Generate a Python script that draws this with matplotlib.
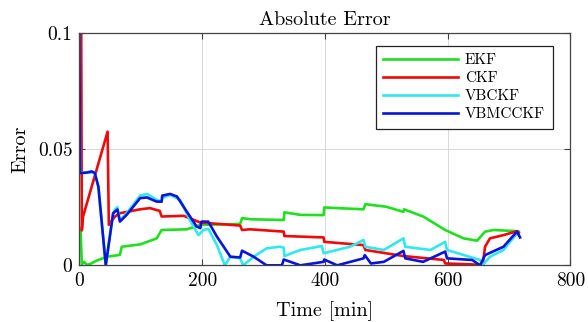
import matplotlib
matplotlib.use("Agg")
import matplotlib.pyplot as plt

plt.rcParams['font.family'] = ['cmr10', 'DejaVu Serif']
plt.rcParams['axes.unicode_minus'] = False
plt.rcParams['mathtext.fontset'] = 'cm'

title = "Absolute Error"
xlabel = "Time [min]"
ylabel = "Error"
labels = ["EKF", "CKF", "VBCKF", "VBMCCKF"]
colors = ["#1ee01e", "#ee0a0a", "#30e8ee", "#0a14d8"]

ekf_x = [0, 2, 4, 8, 12, 17, 28, 45, 66, 69, 99, 126, 134, 175, 197, 262, 265, 280, 333, 334, 360, 398, 399, 430, 463, 466, 500, 528, 529, 561, 596, 626, 648, 661, 675, 690, 713, 716]
ekf_y = [0.015, 0.015, 0.0005, 0.0015, 0.0002, 0.0005, 0.002, 0.0037, 0.0045, 0.008, 0.009, 0.0116, 0.0152, 0.0155, 0.0174, 0.0178, 0.0203, 0.0198, 0.0195, 0.0228, 0.0217, 0.0216, 0.0249, 0.0245, 0.0241, 0.0263, 0.0252, 0.0230, 0.0241, 0.0209, 0.0152, 0.0116, 0.0106, 0.0145, 0.0152, 0.0150, 0.0147, 0.0145]

ckf_x = [3, 4, 6, 46, 48, 58, 66, 99, 115, 131, 134, 170, 197, 262, 265, 278, 333, 334, 398, 399, 463, 466, 528, 594, 596, 640, 653, 657, 661, 669, 691, 713, 716]
ckf_y = [0.1, 0.015, 0.021, 0.0575, 0.0174, 0.021, 0.0224, 0.0241, 0.0246, 0.0234, 0.021, 0.0213, 0.0184, 0.0171, 0.0152, 0.0155, 0.0145, 0.0126, 0.012, 0.0101, 0.0087, 0.0066, 0.004, 0.0023, 0.0008, 0.0004, 0.0001, 0.0, 0.008, 0.0116, 0.013, 0.0147, 0.014]

vbckf_x = [0, 1, 25, 31, 43, 55, 58, 62, 66, 77, 99, 110, 126, 134, 135, 148, 164, 180, 194, 202, 210, 224, 237, 246, 262, 267, 284, 305, 327, 333, 334, 360, 395, 398, 441, 463, 466, 496, 528, 531, 572, 596, 599, 653, 657, 669, 691, 713, 716]
vbckf_y = [0.1, 0.04, 0.0398, 0.0338, 0.0, 0.0224, 0.024, 0.025, 0.0195, 0.0224, 0.03, 0.0307, 0.0282, 0.0274, 0.029, 0.0303, 0.0282, 0.0195, 0.013, 0.0152, 0.0157, 0.0088, 0.0, 0.0037, 0.003, 0.0, 0.0037, 0.0073, 0.008, 0.0076, 0.004, 0.0066, 0.0083, 0.0052, 0.008, 0.0109, 0.008, 0.0066, 0.0116, 0.008, 0.0066, 0.0101, 0.0066, 0.0023, 0.0, 0.0037, 0.0066, 0.0137, 0.013]

vbmcc_x = [0, 1, 10, 20, 25, 31, 43, 55, 62, 66, 77, 99, 110, 126, 134, 135, 148, 159, 175, 191, 197, 199, 210, 224, 246, 262, 265, 284, 305, 330, 333, 360, 398, 399, 420, 463, 465, 475, 496, 528, 531, 560, 596, 599, 640, 653, 661, 691, 713, 718]
vbmcc_y = [0.1, 0.0397, 0.0398, 0.0404, 0.0398, 0.0338, 0.0, 0.0224, 0.024, 0.0188, 0.0217, 0.0289, 0.0292, 0.0274, 0.0274, 0.03, 0.0307, 0.0296, 0.0231, 0.0167, 0.016, 0.0188, 0.0188, 0.0124, 0.0037, 0.0034, 0.0063, 0.0037, 0.0, 0.0, 0.0025, 0.0, 0.0015, 0.0025, 0.0, 0.003, 0.0044, 0.0008, 0.0015, 0.0062, 0.003, 0.0015, 0.0059, 0.003, 0.0023, 0.0, 0.0044, 0.008, 0.0145, 0.012]

xticks = [0, 200, 400, 600, 800]
yticks = [0, 0.05, 0.1]
ytick_labels = ["0", "0.05", "0.1"]

fig = plt.figure(figsize=(5.88, 3.22), dpi=100)
ax = fig.add_axes([0.135, 0.176, 0.835, 0.722])

series = [(ekf_x, ekf_y), (ckf_x, ckf_y), (vbckf_x, vbckf_y), (vbmcc_x, vbmcc_y)]
for (xs, ys), lab, c in zip(series, labels, colors):
    ax.plot(xs, ys, color=c, lw=1.9, label=lab, solid_joinstyle='round')

ax.set_xlim(0, 800)
ax.set_ylim(0, 0.1)
ax.set_xticks(xticks)
ax.set_xticklabels([str(t) for t in xticks])
ax.set_yticks(yticks)
ax.set_yticklabels(ytick_labels)
ax.grid(True, color="#d8d8d8", lw=0.7)
ax.set_axisbelow(True)
ax.tick_params(direction='in', top=True, right=True, labelsize=14, length=4, color="#444444", pad=5)
for s in ax.spines.values():
    s.set_color("#444444")
    s.set_linewidth(0.9)

ax.set_title(title, fontsize=14.5, pad=6)
ax.set_xlabel(xlabel, fontsize=14.5, labelpad=8)
ax.set_ylabel(ylabel, fontsize=14.5, labelpad=6)

leg = ax.legend(loc='upper right', bbox_to_anchor=(0.964, 0.943), borderaxespad=0, fontsize=11,
                handlelength=4.9, handletextpad=0.45, labelspacing=0.28,
                fancybox=False, framealpha=1, edgecolor='#222222', borderpad=0.5)
leg.get_frame().set_linewidth(0.9)

fig.savefig("out.png", dpi=100)
